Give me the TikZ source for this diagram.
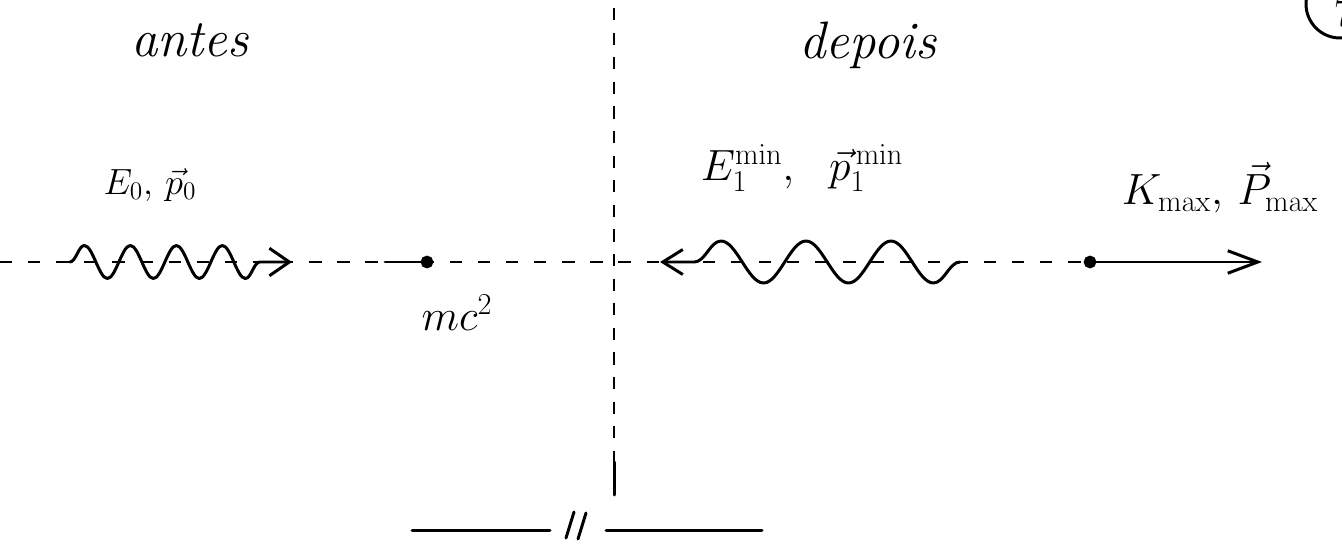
\documentclass[tikz,border=0pt]{standalone}
\usetikzlibrary{arrows.meta,decorations.pathmorphing}
\begin{document}
\begin{tikzpicture}[
  x=0.02cm, y=-0.02cm,
  every node/.style={align=center, inner sep=2pt},
  titleT/.style={font=\fontsize{30}{34}\selectfont\itshape},
  lblT/.style={font=\fontsize{22}{26}\selectfont},
  lblB/.style={font=\fontsize{26}{30}\selectfont},
  axisL/.style={line width=1.1pt, dash pattern=on 7pt off 9pt},
  divL/.style={line width=1.4pt, dash pattern=on 7pt off 7pt},
  strokeL/.style={line width=1.7pt, line cap=round, line join=round},
  photonR/.style={strokeL, decorate,
                  decoration={snake, segment length=0.92cm, amplitude=0.33cm, post length=0.3cm},
                  -{Straight Barb[length=4mm, width=5.5mm]}},
  photonL/.style={strokeL, decorate,
                  decoration={snake, segment length=1.7cm, amplitude=0.42cm, post length=0.2cm},
                  -{Straight Barb[length=4mm, width=5mm]}},
  dotN/.style={circle, fill=black, draw, line width=1pt, inner sep=0pt, minimum size=0.22cm}
]
\useasboundingbox (0,0) rectangle (1342,551);

% HEADINGS
\node[titleT] (antes)  at (190,40) {antes};
\node[titleT] (depois) at (868,45) {depois};
\draw[strokeL] (1340,4) circle[radius=0.68cm];
\node[lblT] (pg) at (1343,14) {7};

% DIVIDER
\coordinate (divT) at (614,8);
\coordinate (divM) at (614,462);
\coordinate (divB) at (614,495);
\draw[divL] (divT) -- (divM);
\draw[strokeL] (divM) -- (divB);

% AXIS
\coordinate (axL) at (0,262);
\node[dotN] (e0) at (427,262) {};
\node[dotN] (e1) at (1090,262) {};
\coordinate (tick) at (385,262);
\draw[axisL] (axL) -- (e1);
\draw[strokeL] (tick) -- (e0);

% ANTES: photon in, electron at rest
\coordinate (ph0a) at (70,262);
\coordinate (ph0b) at (292,262);
\draw[photonR] (ph0a) -- (ph0b);
\node[lblT] (lbl0) at (150,185) {$E_0,\,\vec{p}_0$};
\node[lblB] (lblm) at (457,313) {$mc^2$};

% DEPOIS: photon back, electron forward
\coordinate (ph1a) at (960,262);
\coordinate (ph1b) at (660,262);
\draw[photonL] (ph1a) -- (ph1b);
\node[lblB] (lbl1) at (802,168) {$E_1^{\mathrm{min}},\ \ \vec{p}_1^{\,\mathrm{min}}$};
\coordinate (pe) at (1262,262);
\draw[strokeL, -{Straight Barb[length=6mm, width=4.5mm]}] (e1) -- (pe);
\node[lblB] (lbl2) at (1220,188) {$K_{\mathrm{max}},\,\vec{P}_{\mathrm{max}}$};

% BOTTOM
\coordinate (bL1) at (412,530);
\coordinate (bL2) at (550,530);
\coordinate (bR1) at (606,530);
\coordinate (bR2) at (762,530);
\draw[strokeL] (bL1) -- (bL2);
\draw[strokeL] (bR1) -- (bR2);
\draw[strokeL] (566,538) -- (574,512);
\draw[strokeL] (578,539) -- (586,513);
\end{tikzpicture}
\end{document}
